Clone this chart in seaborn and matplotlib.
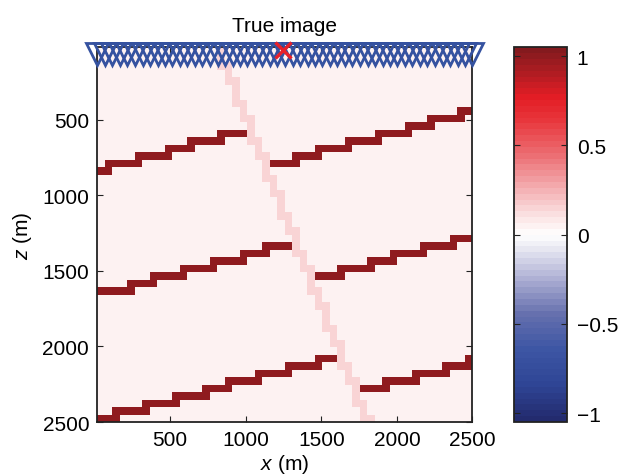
import numpy as np
import matplotlib
matplotlib.use('Agg')
import matplotlib.pyplot as plt
from matplotlib.colors import LinearSegmentedColormap
import seaborn as sns

# model grid, metres
x_first, x_last = 20, 2500
z_first, z_last = 20, 2500
n_cols, n_rows = 50, 50

background_value = 0.04
fault_value = 0.16
reflector_value = 1.0

# fault cells: column and first/last row of each run
fault_col = [16, 17, 18, 19, 20, 21, 22, 23, 24, 25, 26, 27, 28, 29, 30, 31, 32, 33, 34, 35, 36]
fault_row_top = [0, 2, 4, 7, 9, 12, 14, 17, 19, 22, 24, 27, 29, 32, 34, 37, 39, 42, 44, 47, 49]
fault_row_bot = [2, 4, 7, 9, 12, 14, 17, 19, 22, 24, 27, 29, 32, 34, 37, 39, 42, 44, 47, 49, 49]

# reflector steps: (row, first column, last column)
reflector_top = [(16, 0, 1), (15, 1, 5), (14, 5, 9), (13, 9, 12), (12, 12, 16), (11, 16, 19),
                 (15, 23, 26), (14, 26, 29), (13, 29, 33), (12, 33, 37), (11, 37, 41),
                 (10, 41, 44), (9, 44, 48), (8, 48, 49)]
reflector_mid = [(32, 0, 4), (31, 4, 7), (30, 7, 11), (29, 11, 15), (28, 15, 19), (27, 19, 22),
                 (26, 22, 25),
                 (30, 29, 32), (29, 32, 36), (28, 36, 39), (27, 39, 43), (26, 43, 47), (25, 47, 49)]
reflector_bot = [(49, 0, 2), (48, 2, 6), (47, 6, 10), (46, 10, 14), (45, 14, 17), (44, 17, 21),
                 (43, 21, 25), (42, 25, 29), (41, 29, 31),
                 (45, 35, 38), (44, 38, 42), (43, 42, 46), (42, 46, 49), (41, 49, 49)]

# acquisition
receiver_x = [20, 70, 119, 169, 218, 268, 318, 367, 417, 466, 516, 566, 615, 665, 714, 764,
              814, 863, 913, 962, 1012, 1062, 1111, 1161, 1210, 1260, 1310, 1359, 1409, 1458,
              1508, 1558, 1607, 1657, 1706, 1756, 1806, 1855, 1905, 1954, 2004, 2054, 2103,
              2153, 2202, 2252, 2302, 2351, 2401, 2450, 2500]
receiver_z = 62
source_x, source_z = 1250, 40

x_ticks = [500, 1000, 1500, 2000, 2500]
z_ticks = [500, 1000, 1500, 2000, 2500]
cbar_ticks = [-1, -0.5, 0, 0.5, 1]

img = np.full((n_rows, n_cols), background_value)
for c, r0, r1 in zip(fault_col, fault_row_top, fault_row_bot):
    img[r0:r1 + 1, c] = fault_value
for refl in [reflector_top, reflector_mid, reflector_bot]:
    for r, c0, c1 in refl:
        img[r, c0:c1 + 1] = reflector_value

cmap_pts = [(-1.05, '#232b6e'), (-0.85, '#2f4595'), (-0.65, '#3d56a4'), (-0.45, '#6670ae'),
            (-0.25, '#aeb0d4'), (-0.08, '#e8e8f2'), (0.0, '#ffffff'), (0.1, '#fbe4e5'),
            (0.25, '#f4b3b6'), (0.45, '#ec6f74'), (0.65, '#e8363c'), (0.78, '#e31d25'),
            (0.92, '#b01c22'), (1.05, '#841a1e')]
cmap = LinearSegmentedColormap.from_list(
    'rwb', [((v + 1.05) / 2.1, c) for v, c in cmap_pts], N=64)

plt.rcParams['font.family'] = ['Liberation Sans', 'DejaVu Sans']
plt.rcParams['mathtext.fontset'] = 'custom'
plt.rcParams['mathtext.it'] = 'Liberation Sans:italic'
plt.rcParams['mathtext.rm'] = 'Liberation Sans'

fig = plt.figure(figsize=(6.19, 4.77), dpi=100)
ax = fig.add_axes([0.1575, 0.1132, 0.6058, 0.7855])
cax = fig.add_axes([0.8304, 0.1132, 0.0856, 0.7855])

sns.heatmap(img, ax=ax, cmap=cmap, vmin=-1.05, vmax=1.05, cbar_ax=cax,
            xticklabels=False, yticklabels=False)

dx = (x_last - x_first) / n_cols
dz = (z_last - z_first) / n_rows
def xi(x):
    return (np.asarray(x) - x_first) / dx
def zi(z):
    return (np.asarray(z) - z_first) / dz

ax.plot(xi(receiver_x), zi([receiver_z] * len(receiver_x)), 'v', ls='none',
        mfc='none', mec='#3552a0', ms=16, mew=2.0, clip_on=False, zorder=5)
ax.plot(xi([source_x]), zi([source_z]), 'x', ls='none', color='#e8202a',
        ms=11, mew=2.4, clip_on=False, zorder=6)

ax.set_xticks(xi(x_ticks))
ax.set_xticklabels([str(t) for t in x_ticks])
ax.set_yticks(zi(z_ticks))
ax.set_yticklabels([str(t) for t in z_ticks], rotation=0)
ax.tick_params(direction='in', top=True, right=True, length=4, width=0.8,
               labelsize=15, pad=6, color='#222222')
for s in ax.spines.values():
    s.set_visible(True)
    s.set_linewidth(1.3)
    s.set_color('#222222')
ax.set_xlabel('$x$ (m)', fontsize=15, labelpad=2)
ax.set_ylabel('$z$ (m)', fontsize=15, labelpad=6)
ax.set_title('True image', fontsize=15, pad=12)

cb = ax.collections[0].colorbar
cb.set_ticks(cbar_ticks)
cb.set_ticklabels(['\u22121', '\u22120.5', '0', '0.5', '1'])
cb.outline.set_visible(True)
cb.outline.set_linewidth(1.3)
cb.outline.set_edgecolor('#222222')
cax.tick_params(direction='in', left=True, right=True, length=4, width=0.8,
                labelsize=15, pad=7, color='#222222')

fig.savefig('out.png', dpi=100)
